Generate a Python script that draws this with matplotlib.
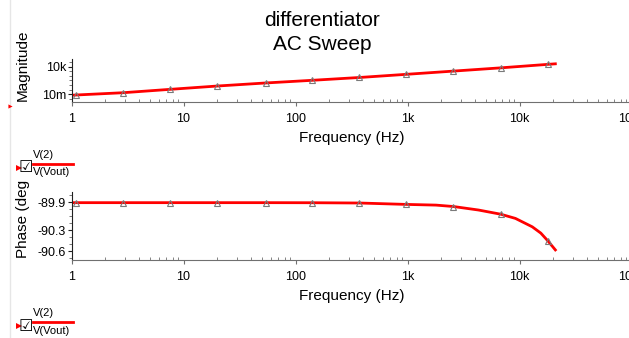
import numpy as np
import matplotlib
matplotlib.use('Agg')
import matplotlib.pyplot as plt
from matplotlib.ticker import FixedLocator, FuncFormatter, LogLocator, NullFormatter, MultipleLocator

plt.rcParams['font.family'] = ['Liberation Sans', 'DejaVu Sans']

# magnitude trace
freq_mag = [1, 1.1, 2.87, 7.6, 20, 54, 141, 372, 977, 2570, 6800, 17900, 20900]
mag = [0.0063, 0.0071, 0.022, 0.12, 0.63, 2.9, 11, 45, 220, 1100, 5600, 32000, 42000]
mag_marks = [1, 2, 3, 4, 5, 6, 7, 8, 9, 10, 11]

# phase trace
freq_ph = [1, 1.1, 2.87, 7.6, 20, 54, 141, 372, 977, 1800, 2570, 4300, 6800, 9200,
           13000, 15500, 17900, 20900]
phase = [-89.905, -89.905, -89.905, -89.905, -89.905, -89.905, -89.906, -89.91, -89.93,
         -89.94, -89.96, -90.01, -90.07, -90.13, -90.25, -90.34, -90.45, -90.58]
ph_marks = [1, 2, 3, 4, 5, 6, 7, 8, 10, 12, 16]

x_ticks = [1, 10, 100, 1e3, 1e4, 1e5]
x_labels = ['1', '10', '100', '1k', '10k', '100k']
mag_ticks = [1e-2, 1e4]
mag_labels = ['10m', '10k']
ph_ticks = [-89.9, -90.3, -90.6]
ph_labels = ['-89.9', '-90.3', '-90.6']

W, H = 629, 338
fig = plt.figure(figsize=(W / 100, H / 100), dpi=100)


def px(x0, y0, x1, y1):
    return [x0 / W, 1 - y1 / H, (x1 - x0) / W, (y1 - y0) / H]


def style_axis(ax):
    ax.set_xscale('log')
    ax.set_xlim(1, 1e5)
    ax.spines['top'].set_visible(False)
    ax.spines['right'].set_visible(False)
    ax.spines['left'].set_color('#202020')
    ax.spines['bottom'].set_color('#707070')
    ax.xaxis.set_major_locator(FixedLocator(x_ticks))
    ax.xaxis.set_major_formatter(FuncFormatter(lambda v, p: x_labels[x_ticks.index(v)] if v in x_ticks else ''))
    ax.xaxis.set_minor_locator(LogLocator(base=10, subs=np.arange(2, 10)))
    ax.xaxis.set_minor_formatter(NullFormatter())
    ax.tick_params(axis='x', which='major', direction='out', length=3, width=0.8,
                   color='#707070', labelsize=9, pad=5)
    ax.tick_params(axis='x', which='minor', direction='in', length=2, width=0.6, color='#707070')
    ax.tick_params(axis='y', which='major', direction='out', length=3, width=0.8,
                   color='#202020', labelsize=9, pad=1)
    ax.tick_params(axis='y', which='minor', direction='out', length=2, width=0.6, color='#606060')
    ax.set_xlabel('Frequency (Hz)', fontsize=11, labelpad=4)


line_kw = dict(color='#ff0000', lw=2, marker='^', ms=3.8, mfc='none', mec='#7a7a7a', mew=0.8)

ax1 = fig.add_axes(px(71.5, 59, 631.5, 102))
ax1.plot(freq_mag, mag, markevery=mag_marks, **line_kw)
ax1.set_yscale('log')
ax1.set_ylim(10 ** -3.67, 10 ** 5.67)
style_axis(ax1)
ax1.yaxis.set_major_locator(FixedLocator(mag_ticks))
ax1.yaxis.set_major_formatter(FuncFormatter(lambda v, p: mag_labels[0] if v < 1 else mag_labels[1]))
ax1.yaxis.set_minor_locator(FixedLocator([1e-3, 1e-1, 1, 10, 100, 1e3, 1e5]))
ax1.yaxis.set_minor_formatter(NullFormatter())

ax2 = fig.add_axes(px(71.5, 192.3, 631.5, 260))
ax2.plot(freq_ph, phase, markevery=ph_marks, **line_kw)
ax2.set_ylim(-90.724, -89.757)
style_axis(ax2)
ax2.yaxis.set_major_locator(FixedLocator(ph_ticks))
ax2.set_yticklabels(ph_labels)
ax2.yaxis.set_minor_locator(MultipleLocator(0.1))

# overlay in pixel coords for the labels, title and legend bits
ov = fig.add_axes([0, 0, 1, 1], zorder=-1)
ov.set_xlim(0, W)
ov.set_ylim(H, 0)
ov.axis('off')
ov.plot([10, 10], [0, H], color='#e6e6e6', lw=1)

fig.text(322 / W, 1 - 20.5 / H, 'differentiator', ha='center', va='center', fontsize=15)
fig.text(322 / W, 1 - 45 / H, 'AC Sweep', ha='center', va='center', fontsize=15)
fig.text(23 / W, 1 - 65 / H, 'Magnitude', ha='center', va='center', rotation=90, fontsize=11)
fig.text(23 / W, 1 - 219 / H, 'Phase (deg', ha='center', va='center', rotation=90, fontsize=11)

for yc in (163.5, 322):
    ov.plot([33, 73], [yc, yc], color='#ff0000', lw=2)
    ov.text(25.5, yc + 4.5, '\u2611', fontsize=11.5, ha='center', va='center',
            family=['DejaVu Sans'])
    ov.plot([18.5], [yc + 4], marker='>', color='#ff0000', ms=4.5, mew=0)
    ov.text(33, yc - 8.5, 'V(2)', fontsize=8, ha='left', va='center')
    ov.text(33, yc + 8.5, 'V(Vout)', fontsize=8, ha='left', va='center')
ov.plot([10], [106], marker='>', color='#ff0000', ms=3, mew=0)

fig.savefig('out.png', dpi=100)
